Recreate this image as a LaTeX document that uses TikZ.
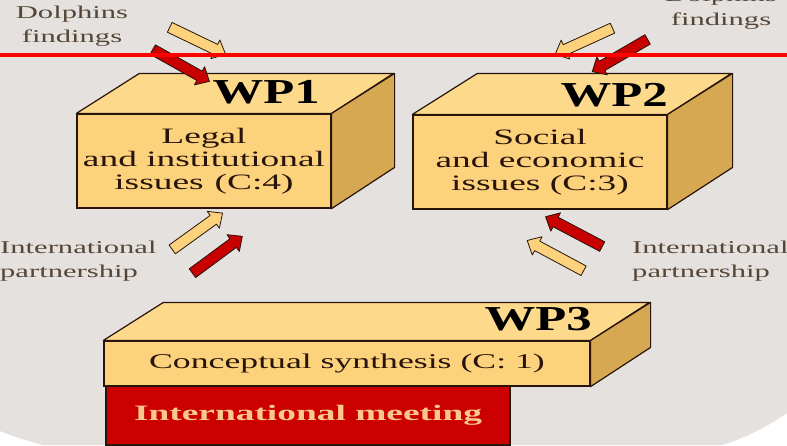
\documentclass[tikz,border=0pt]{standalone}
\usepackage{fontspec}
\setmainfont{Liberation Serif}[FakeStretch=1.7]
\newfontfamily\wpfont{Liberation Serif}[FakeStretch=1.45]
\usetikzlibrary{shapes.arrows}

\definecolor{bggray}{RGB}{228,225,223}
\definecolor{boxfront}{RGB}{252,210,125}
\definecolor{boxtop}{RGB}{253,217,140}
\definecolor{boxside}{RGB}{214,168,82}
\definecolor{boxline}{RGB}{40,20,10}
\definecolor{arrowred}{RGB}{200,0,0}
\definecolor{meetred}{RGB}{204,0,0}
\definecolor{meettext}{RGB}{250,200,140}
\definecolor{labeltext}{RGB}{85,70,55}

\begin{document}
\begin{tikzpicture}[x=1pt,y=-1pt,
    front/.style={rectangle,fill=boxfront,draw=boxline,line width=1.2pt,text=boxline,
      inner sep=0pt,align=center,font=\fontsize{22}{23}\selectfont},
    topface/.style={fill=boxtop,draw=boxline,line width=1.2pt,line join=round},
    sideface/.style={fill=boxside,draw=boxline,line width=1.2pt,line join=round},
    wplabel/.style={inner sep=0pt,text=black,font=\wpfont\bfseries\fontsize{35}{35}\selectfont},
    meeting/.style={rectangle,fill=meetred,draw=boxline,line width=1.2pt,text=meettext,
      inner sep=0pt,font=\bfseries\fontsize{22}{24}\selectfont},
    label/.style={inner sep=0pt,text=labeltext,font=\fontsize{18}{24}\selectfont},
    arrowbase/.style={single arrow,draw=boxline,line width=0.8pt,line join=round,
      single arrow head extend=5pt,single arrow tip angle=85,inner sep=0pt},
    beigearrow/.style={arrowbase,fill=boxfront},
    redarrow/.style={arrowbase,fill=arrowred}]

    % background
    \fill[white] (0,0) rectangle (787,445);
    \fill[bggray] (0,0) -- (787,0) -- (787,413) .. controls (765,428) and (745,438) .. (722,445)
        -- (42,445) .. controls (25,440) and (12,436) .. (0,431) -- cycle;
    \useasboundingbox (0,0) rectangle (787,445);

    % WP1
    \node[front,minimum width=254pt,minimum height=94pt] (wp1) at (204,161)
        {Legal\\and institutional\\issues\enspace(C:4)};
    \filldraw[topface] (wp1.north west) -- ++(63,-40) -- ++(254,0) -- (wp1.north east) -- cycle;
    \filldraw[sideface] (wp1.north east) -- ++(63,-40) -- ++(0,94) -- (wp1.south east) -- cycle;
    \node[wplabel,anchor=base east] (wp1t) at (320,103) {WP1};

    % WP2
    \node[front,minimum width=254pt,minimum height=94pt] (wp2) at (540,162)
        {Social\\and economic\\issues (C:3)};
    \filldraw[topface] (wp2.north west) -- ++(65,-41) -- ++(254,0) -- (wp2.north east) -- cycle;
    \filldraw[sideface] (wp2.north east) -- ++(65,-41) -- ++(0,94) -- (wp2.south east) -- cycle;
    \node[wplabel,anchor=base east] (wp2t) at (668,106) {WP2};

    % WP3 and meeting
    \node[meeting,minimum width=404pt,minimum height=59pt] (meet) at (308,415.5) {International meeting};
    \node[front,minimum width=486pt,minimum height=45pt,font=\fontsize{21}{23}\selectfont] (wp3) at (347,363.5)
        {Conceptual synthesis (C: 1)};
    \filldraw[topface] (wp3.north west) -- ++(60,-38) -- ++(486,0) -- (wp3.north east) -- cycle;
    \filldraw[sideface] (wp3.north east) -- ++(60,-38) -- ++(0,45) -- (wp3.south east) -- cycle;
    \node[wplabel,anchor=base east] (wp3t) at (592,330) {WP3};

    % labels
    \node[label,align=center] (dol1) at (72,26) {Dolphins\\findings};
    \node[label,align=center] (dol2) at (721,9) {Dolphins\\findings};
    \node[label,align=left,anchor=west] (int1) at (0,261) {International\\partnership};
    \node[label,align=left,anchor=west] (int2) at (632,261) {International\\partnership};

    % arrows
    \node[beigearrow,minimum height=62pt,rotate=-25.7] (in1a) at (195,39.5) {\rule{0pt}{10pt}};
    \node[redarrow,minimum height=65pt,rotate=-29.3] (in1b) at (178.5,64) {\rule{0pt}{10pt}};
    \node[beigearrow,minimum height=63pt,rotate=-155.5] (in2a) at (586.5,40) {\rule{0pt}{10pt}};
    \node[redarrow,minimum height=64pt,rotate=-149.8] (in2b) at (622.5,54) {\rule{0pt}{10pt}};
    \node[beigearrow,minimum height=62pt,rotate=35.8] (in3a) at (195,233) {\rule{0pt}{10pt}};
    \node[redarrow,minimum height=62pt,rotate=36.5] (in3b) at (215,256.5) {\rule{0pt}{10pt}};
    \node[redarrow,minimum height=64pt,rotate=152.2] (in4a) at (576.5,233) {\rule{0pt}{10pt}};
    \node[beigearrow,minimum height=64pt,rotate=151.8] (in4b) at (558,257) {\rule{0pt}{10pt}};

    % red line
    \draw[red,line width=4pt] (0,55) -- (787,55);
\end{tikzpicture}
\end{document}
